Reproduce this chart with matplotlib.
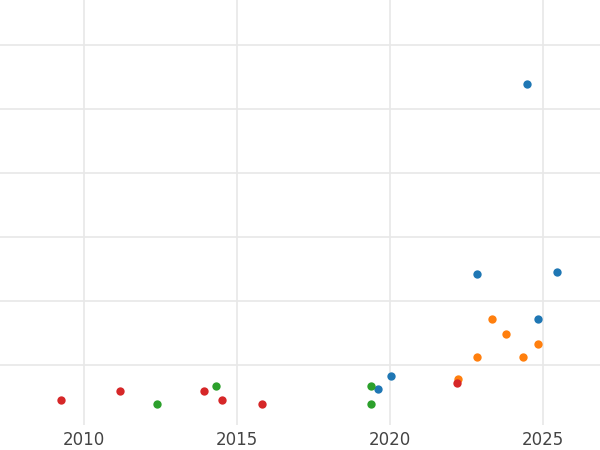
import matplotlib
matplotlib.use("Agg")
import matplotlib.pyplot as plt

blue_x = [2024.48, 2022.84, 2025.46, 2024.84, 2020.03, 2019.61]
blue_y = [5.38, 2.41, 2.45, 1.71, 0.82, 0.61]
orange_x = [2023.33, 2023.79, 2022.84, 2024.35, 2024.84, 2022.22]
orange_y = [1.71, 1.47, 1.11, 1.11, 1.32, 0.78]
green_x = [2014.31, 2012.39, 2019.38, 2019.38]
green_y = [0.66, 0.39, 0.66, 0.39]
red_x = [2009.25, 2011.18, 2013.92, 2014.51, 2015.82, 2022.19]
red_y = [0.44, 0.58, 0.58, 0.45, 0.39, 0.71]
xticks = [2010, 2015, 2020, 2025]

fig = plt.figure(figsize=(6, 4.5), dpi=100)
ax = fig.add_axes([0, 0.055, 1, 0.945])
for xs, ys, c in [(blue_x, blue_y, "#1f77b4"), (orange_x, orange_y, "#ff7f0e"),
                  (green_x, green_y, "#2ca02c"), (red_x, red_y, "#d62728")]:
    ax.scatter(xs, ys, s=36, color=c, zorder=3, linewidths=0)
ax.set_xlim(2007.25, 2026.86)
ax.set_ylim(0.05, 6.7)
ax.set_xticks(xticks)
ax.set_yticks([1, 2, 3, 4, 5, 6])
ax.set_yticklabels([])
ax.tick_params(length=0, labelsize=12, colors="#444444", pad=4)
ax.grid(True, color="#e8e8e8", linewidth=1.2)
for s in ax.spines.values():
    s.set_visible(False)
fig.savefig("out.png", dpi=100)
